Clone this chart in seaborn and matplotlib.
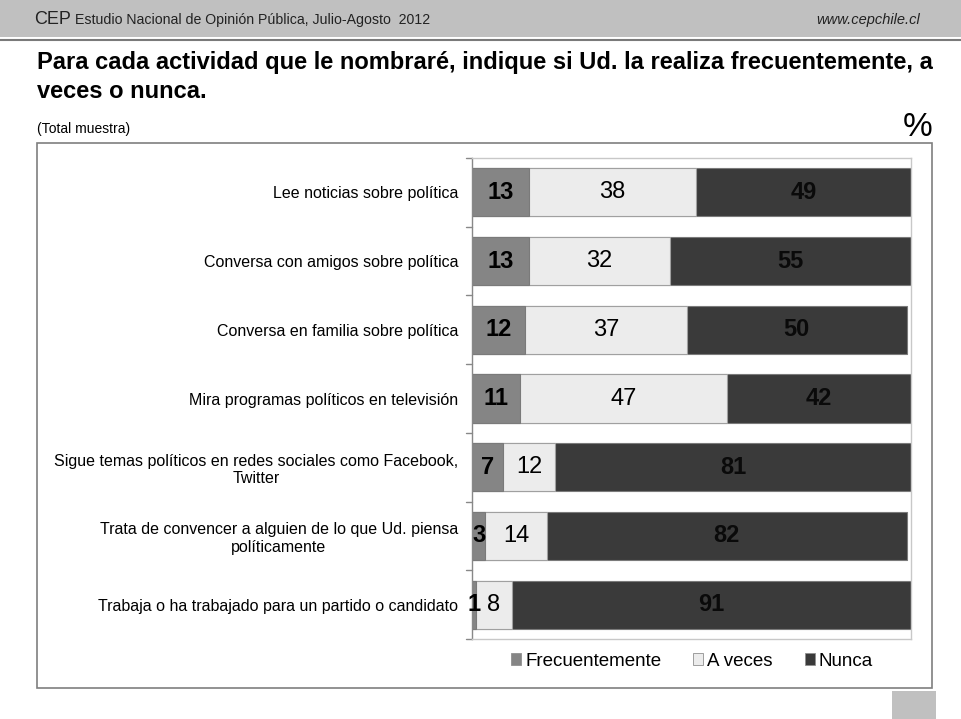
import pandas as pd
import seaborn as sns
import matplotlib.pyplot as plt
from matplotlib.patches import Rectangle
from matplotlib.lines import Line2D

actividades = [
    "Lee noticias sobre política",
    "Conversa con amigos sobre política",
    "Conversa en familia sobre política",
    "Mira programas políticos en televisión",
    "Sigue temas políticos en redes sociales como Facebook,\nTwitter",
    "Trata de convencer a alguien de lo que Ud. piensa\npolíticamente",
    "Trabaja o ha trabajado para un partido o candidato",
]
frecuentemente = [13, 13, 12, 11, 7, 3, 1]
a_veces = [38, 32, 37, 47, 12, 14, 8]
nunca = [49, 55, 50, 42, 81, 82, 91]

series = ["Frecuentemente", "A veces", "Nunca"]
colores = ["#858585", "#ececec", "#3a3a3a"]


def set_config():
    sns.set_theme(style="white")
    plt.rcParams["font.family"] = ["Liberation Sans", "DejaVu Sans"]
    plt.rcParams["text.color"] = "black"
    plt.rcParams["ytick.color"] = "black"


def main():
    set_config()
    df = pd.DataFrame({
        "actividad": actividades,
        "Frecuentemente": frecuentemente,
        "A veces": a_veces,
        "Nunca": nunca,
    })
    # acumulados para apilar
    df["c1"] = df["Frecuentemente"]
    df["c2"] = df["c1"] + df["A veces"]
    df["c3"] = df["c2"] + df["Nunca"]

    fig = plt.figure(figsize=(9.61, 7.19), dpi=100)
    W, H = 961, 719

    # encabezado gris
    fig.patches.append(Rectangle((0, 1 - 37 / H), 1, 37 / H, transform=fig.transFigure,
                                 facecolor="#c0c0c0", edgecolor="none", zorder=0))
    fig.lines.append(Line2D([0, 1], [1 - 40 / H, 1 - 40 / H], transform=fig.transFigure,
                            color="#7a7a7a", lw=1.5))
    fig.text(34 / W, 1 - 19 / H, "CEP", fontsize=13, va="center", color="#222222")
    fig.text(75 / W, 1 - 20 / H, "Estudio Nacional de Opinión Pública, Julio-Agosto  2012",
             fontsize=10.2, va="center", color="#222222")
    fig.text(920 / W, 1 - 20 / H, "www.cepchile.cl", fontsize=10.5, va="center",
             ha="right", style="italic", color="#222222")

    fig.text(37 / W, 1 - 63 / H, "Para cada actividad que le nombraré, indique si Ud. la realiza frecuentemente, a",
             fontsize=17, fontweight="bold", va="center")
    fig.text(37 / W, 1 - 91 / H, "veces o nunca.", fontsize=17, fontweight="bold", va="center")
    fig.text(37 / W, 1 - 129 / H, "(Total muestra)", fontsize=10, va="center")
    fig.text(932 / W, 1 - 128 / H, "%", fontsize=24, va="center", ha="right")

    # recuadro exterior
    fig.patches.append(Rectangle((37 / W, 1 - 688 / H), (932 - 37) / W, (688 - 143) / H,
                                 transform=fig.transFigure, facecolor="none",
                                 edgecolor="#7f7f7f", lw=1.2, zorder=0))
    fig.patches.append(Rectangle((892 / W, 0), 44 / W, 28 / H, transform=fig.transFigure,
                                 facecolor="#c0c0c0", edgecolor="none"))

    ax = fig.add_axes([472 / W, 1 - 639 / H, (911 - 472) / W, (639 - 158) / H])

    bw = 0.7
    sns.barplot(data=df, x="c3", y="actividad", color=colores[2], width=bw,
                edgecolor="#7a7a7a", linewidth=0.8, ax=ax, orient="h")
    sns.barplot(data=df, x="c2", y="actividad", color=colores[1], width=bw,
                edgecolor="#a0a0a0", linewidth=0.8, ax=ax, orient="h")
    sns.barplot(data=df, x="c1", y="actividad", color=colores[0], width=bw,
                edgecolor="#7a7a7a", linewidth=0.8, ax=ax, orient="h")
    for p in ax.patches:
        p.set_facecolor(p.get_facecolor()[:3])

    # etiquetas
    for i, row in df.iterrows():
        ax.text(row["c1"] / 2, i, str(row["Frecuentemente"]), ha="center", va="center",
                fontsize=17, fontweight="bold", color="black")
        ax.text(row["c1"] + row["A veces"] / 2, i, str(row["A veces"]), ha="center",
                va="center", fontsize=17, color="black")
        ax.text(row["c2"] + row["Nunca"] / 2, i, str(row["Nunca"]), ha="center",
                va="center", fontsize=17, fontweight="bold", color="#0a0a0a")

    ax.set_xlim(0, 100)
    ax.set_ylim(len(actividades) - 0.5, -0.5)
    ax.set_xlabel("")
    ax.set_ylabel("")
    ax.set_xticks([])
    ax.set_yticks(range(len(actividades)))
    ax.set_yticklabels(actividades, fontsize=11.5, multialignment="center")
    ax.tick_params(axis="y", length=0, pad=10)
    for s in ax.spines.values():
        s.set_color("#c8c8c8")
        s.set_linewidth(1)
    ax.spines["left"].set_color("#888888")
    # marcas entre categorias
    for b in range(len(actividades) + 1):
        ax.plot([-0.014, 0], [b - 0.5, b - 0.5], transform=ax.get_yaxis_transform(),
                color="#888888", lw=1, clip_on=False)

    handles = [Rectangle((0, 0), 1, 1, facecolor=c, edgecolor="#909090", lw=0.6) for c in colores]
    fig.legend(handles, series, loc="center", bbox_to_anchor=(692 / W, 1 - 661 / H),
               ncol=3, frameon=False, fontsize=13.5, handlelength=0.55, handleheight=0.55,
               handletextpad=0.2, columnspacing=1.7)

    fig.savefig("out.png", dpi=100)


if __name__ == "__main__":
    main()
